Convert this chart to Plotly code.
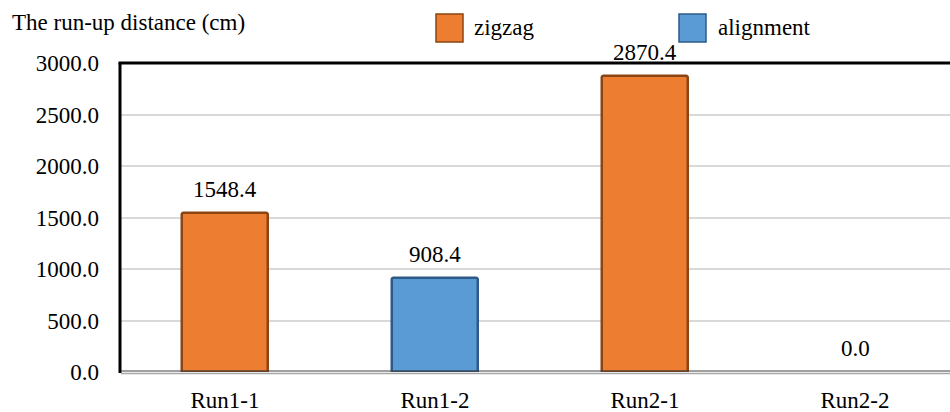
import plotly.graph_objects as go

categories = ["Run1-1", "Run1-2", "Run2-1", "Run2-2"]
zigzag_x = ["Run1-1", "Run2-1"]
zigzag_y = [1548.4, 2870.4]
align_x = ["Run1-2", "Run2-2"]
align_y = [908.4, 0.0]
y_ticks = [0, 500, 1000, 1500, 2000, 2500, 3000]

W, H = 950, 412
ML, MR, MT, MB = 120, 0, 63, 40
PW, PH = W - ML - MR, H - MT - MB

def px(x):
    return (x - ML) / PW

def py(y):
    return (H - MB - y) / PH

FONT = "Liberation Serif, Times New Roman, serif"
FS = 23
ORANGE, ORANGE_EDGE = "#ED7D31", "#8B4513"
BLUE, BLUE_EDGE = "#5B9BD5", "#2E5A88"

def edge_widths(vals):
    return [2.5 if v > 0 else 0 for v in vals]

fig = go.Figure()
fig.add_trace(go.Bar(
    x=zigzag_x, y=zigzag_y, name="zigzag", width=0.41,
    marker=dict(color=ORANGE, line=dict(color=ORANGE_EDGE, width=edge_widths(zigzag_y)), cornerradius=2),
    hoverinfo="skip",
))
fig.add_trace(go.Bar(
    x=align_x, y=align_y, name="alignment", width=0.41,
    marker=dict(color=BLUE, line=dict(color=BLUE_EDGE, width=edge_widths(align_y)), cornerradius=2),
    hoverinfo="skip",
))

shapes = [
    dict(type="line", xref="paper", yref="paper", x0=px(118.5), x1=1.0, y0=1, y1=1,
         line=dict(color="#000", width=3)),
    dict(type="line", xref="paper", yref="paper", x0=px(120), x1=px(120), y0=py(373), y1=1,
         line=dict(color="#000", width=3)),
    dict(type="line", xref="paper", yref="paper", x0=px(121), x1=1.0, y0=py(371), y1=py(371),
         line=dict(color="#404040", width=1.2)),
    dict(type="line", xref="paper", yref="paper", x0=px(121), x1=1.0, y0=py(373.5), y1=py(373.5),
         line=dict(color="#A6A6A6", width=1.5)),
    dict(type="rect", xref="paper", yref="paper", x0=px(436), x1=px(463), y0=py(42), y1=py(14),
         fillcolor=ORANGE, line=dict(color=ORANGE_EDGE, width=1.5)),
    dict(type="rect", xref="paper", yref="paper", x0=px(679), x1=px(706), y0=py(42), y1=py(14),
         fillcolor=BLUE, line=dict(color=BLUE_EDGE, width=1.5)),
]

annotations = [
    dict(text="The run-up distance (cm)", xref="paper", yref="paper", x=px(10), y=py(23),
         xanchor="left", yanchor="middle", showarrow=False,
         font=dict(family=FONT, size=FS, color="#000")),
    dict(text="zigzag", xref="paper", yref="paper", x=px(472), y=py(27),
         xanchor="left", yanchor="middle", showarrow=False,
         font=dict(family=FONT, size=FS, color="#000")),
    dict(text="alignment", xref="paper", yref="paper", x=px(716), y=py(27),
         xanchor="left", yanchor="middle", showarrow=False,
         font=dict(family=FONT, size=FS, color="#000")),
]
for xs, ys in ((zigzag_x, zigzag_y), (align_x, align_y)):
    for xv, yv in zip(xs, ys):
        annotations.append(dict(
            text=f"{yv:.1f}", x=xv, y=yv, xref="x", yref="y",
            xanchor="center", yanchor="bottom", yshift=9, showarrow=False,
            font=dict(family=FONT, size=FS, color="#000")))

fig.update_layout(
    width=W, height=H,
    margin=dict(l=ML, r=MR, t=MT, b=MB, pad=0),
    paper_bgcolor="white", plot_bgcolor="white",
    barmode="overlay", showlegend=False, bargap=0,
    font=dict(family=FONT, size=FS, color="#000"),
    shapes=shapes, annotations=annotations,
    xaxis=dict(categoryorder="array", categoryarray=categories,
               range=[-0.5, -0.5 + PW / 210], showline=False, showgrid=False,
               ticks="", ticklabelstandoff=12, zeroline=False,
               tickfont=dict(family=FONT, size=FS, color="#000")),
    yaxis=dict(range=[0, 3000], tickvals=y_ticks, tickformat=".1f",
               showgrid=True, gridcolor="#D9D9D9", gridwidth=1.5, zeroline=False,
               showline=False, ticks="", ticklabelstandoff=20,
               tickfont=dict(family=FONT, size=FS, color="#000")),
)

fig.write_html("out.html", config={"displayModeBar": False},
               post_script="document.body.style.margin='0';document.body.style.overflow='hidden';")
